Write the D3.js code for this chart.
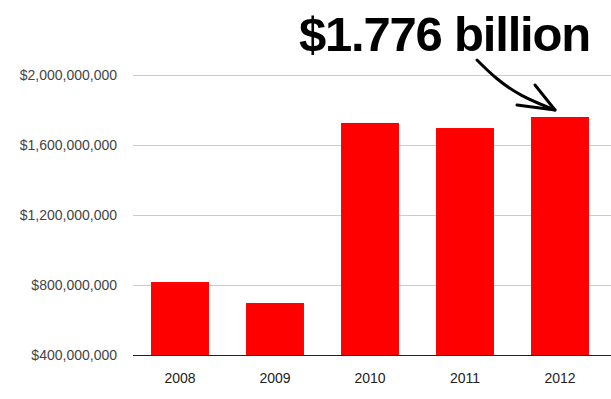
<!DOCTYPE html>
<html><head><meta charset="utf-8">
<script src="https://cdn.jsdelivr.net/npm/d3@7"></script>
<style>body{margin:0;background:#fff}svg{display:block}</style>
</head><body>
<svg id="c" width="611" height="399"></svg>
<script>
const years = ["2008","2009","2010","2011","2012"];
const values = [817000000, 697000000, 1726000000, 1697000000, 1760000000];
const yTicks = [400000000, 800000000, 1200000000, 1600000000, 2000000000];
const annotation = "$1.776 billion";

const svg = d3.select("#c");
const x = d3.scaleBand().domain(years).range([132.5, 607.5]).paddingInner(0.39).paddingOuter(0.195);
const y = d3.scaleLinear().domain([400000000, 2000000000]).range([355, 75]);
const fmt = v => "$" + d3.format(",")(v);

// gridlines
svg.append("g").selectAll("line").data(yTicks.slice(1)).join("line")
  .attr("x1", 133).attr("x2", 611)
  .attr("y1", d => Math.round(y(d)) + 0.5).attr("y2", d => Math.round(y(d)) + 0.5)
  .attr("stroke", "#cccccc").attr("stroke-width", 1);

// y labels
svg.append("g").selectAll("text").data(yTicks).join("text")
  .attr("x", 117).attr("y", d => y(d)).attr("dy", "0.35em")
  .attr("text-anchor", "end")
  .attr("font-family", "Arial, 'Liberation Sans', sans-serif").attr("font-size", 14)
  .attr("fill", "#444").text(fmt);

// bars
svg.append("g").selectAll("rect").data(years).join("rect")
  .attr("x", d => x(d)).attr("width", x.bandwidth())
  .attr("y", (d, i) => y(values[i])).attr("height", (d, i) => y(400000000) - y(values[i]))
  .attr("fill", "#ff0000");

// baseline
svg.append("line").attr("x1", 133).attr("x2", 611)
  .attr("y1", y(400000000) + 0.5).attr("y2", y(400000000) + 0.5)
  .attr("stroke", "#222").attr("stroke-width", 1);

// x labels
svg.append("g").selectAll("text").data(years).join("text")
  .attr("x", d => x(d) + x.bandwidth() / 2).attr("y", 383)
  .attr("text-anchor", "middle")
  .attr("font-family", "Arial, 'Liberation Sans', sans-serif").attr("font-size", 14)
  .attr("fill", "#222").text(d => d);

// annotation text
svg.append("text").attr("x", 299).attr("y", 51)
  .attr("font-family", "'Liberation Sans', Arial, sans-serif").attr("font-weight", "bold")
  .attr("font-size", 49).attr("letter-spacing", "-1.2px")
  .attr("fill", "#000").text(annotation);

// arrow
const line = d3.line().curve(d3.curveBasis);
svg.append("path").attr("d", line([[477, 60], [495, 78], [520, 96], [555, 110]]))
  .attr("fill", "none").attr("stroke", "#000").attr("stroke-width", 3).attr("stroke-linecap", "round");
svg.append("path").attr("d", d3.line()([[535, 85], [555, 110], [517, 105]]))
  .attr("fill", "none").attr("stroke", "#000").attr("stroke-width", 3)
  .attr("stroke-linecap", "round").attr("stroke-linejoin", "round");
</script>
</body></html>
